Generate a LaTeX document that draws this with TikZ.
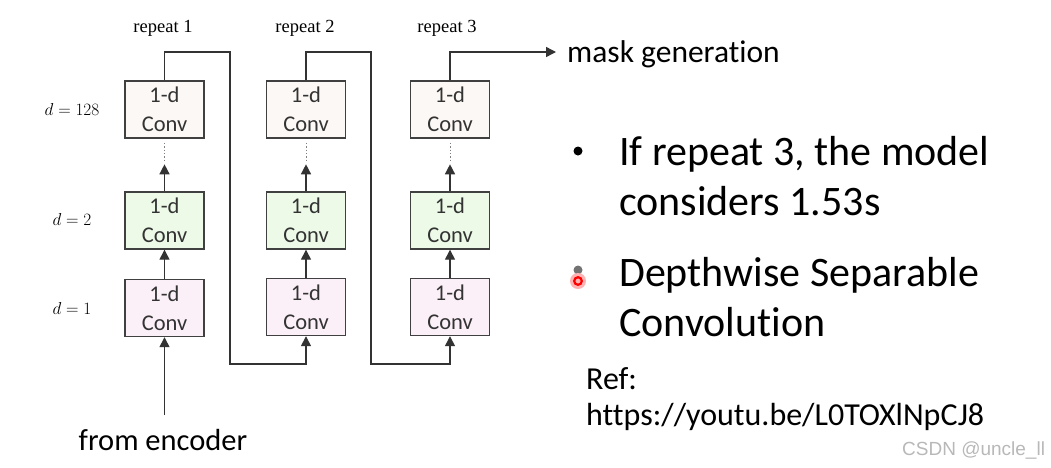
\documentclass[tikz,border=0pt]{standalone}
\usepackage{fontspec}
\setmainfont{Carlito}[Ligatures={NoCommon,NoContextual}]
\newfontfamily\repfont{Liberation Serif}
\newfontfamily\markfont{Liberation Sans}
\usetikzlibrary{arrows.meta}
\definecolor{boxtop}{RGB}{252,248,245}
\definecolor{boxmid}{RGB}{237,250,232}
\definecolor{boxlow}{RGB}{252,240,248}
\definecolor{edge}{RGB}{64,64,64}
\tikzset{
  conv/.style={draw=edge, line width=1.4pt, minimum width=79pt, minimum height=57pt,
    align=center, font=\fontsize{22.5}{29}\selectfont, text=black!80, inner sep=0pt},
  flow/.style={line width=1.4pt, draw=black!80, -{Triangle[length=10pt,width=10pt]}},
  wire/.style={line width=1.4pt, draw=black!80},
  txt/.style={inner sep=0pt, anchor=west},
  replabel/.style={font=\repfont\fontsize{18.5}{20}\selectfont},
  dlabel/.style={font=\fontsize{19}{21}\selectfont}
}
\begin{document}
\begin{tikzpicture}[x=1pt,y=-1pt]
        \useasboundingbox (0,0) rectangle (1051,467);
        % column 1
        \node [conv, fill=boxlow] (c1a) at (164.5, 308) {1-d\\Conv};
        \node [conv, fill=boxmid] (c1b) at (164.5, 220.5) {1-d\\Conv};
        \node [conv, fill=boxtop] (c1c) at (164.5, 109.5) {1-d\\Conv};
        % column 2
        \node [conv, fill=boxlow] (c2a) at (306, 307) {1-d\\Conv};
        \node [conv, fill=boxmid] (c2b) at (306, 220.5) {1-d\\Conv};
        \node [conv, fill=boxtop] (c2c) at (306, 109.5) {1-d\\Conv};
        % column 3
        \node [conv, fill=boxlow] (c3a) at (450, 307) {1-d\\Conv};
        \node [conv, fill=boxmid] (c3b) at (450, 220.5) {1-d\\Conv};
        \node [conv, fill=boxtop] (c3c) at (450, 109.5) {1-d\\Conv};
        % labels
        \node [replabel] (r1) at (163, 28) {repeat 1};
        \node [replabel] (r2) at (305, 28) {repeat 2};
        \node [replabel] (r3) at (447, 28) {repeat 3};
        \node [dlabel] (d3) at (72, 109) {$d = 128$};
        \node [dlabel] (d2) at (72, 219) {$d = 2$};
        \node [dlabel] (d1) at (72, 308) {$d = 1$};
        \node [font=\fontsize{30.5}{33}\selectfont] (enc) at (163, 440) {from encoder};
        \node [txt, font=\fontsize{31.5}{34}\selectfont] (mask) at (567, 54) {mask generation};
        \coordinate (src) at (164.5, 415);
        \coordinate (top1) at (164.5, 52);
        \coordinate (top2) at (306, 52);
        \coordinate (top3) at (450, 52);
        \coordinate (out) at (556, 52);
        % arrows inside columns
        \draw [flow] (src) -- (c1a);
        \draw [flow] (c1a) -- (c1b);
        \draw [flow] (c2a) -- (c2b);
        \draw [flow] (c3a) -- (c3b);
        \draw [flow] (c1b.north) -- ++(0,-27);
        \draw [flow] (c2b.north) -- ++(0,-27);
        \draw [flow] (c3b.north) -- ++(0,-27);
        \draw [wire, dotted, line width=1pt, black!50] (c1c.south) ++(0,4) -- ++(0,18);
        \draw [wire, dotted, line width=1pt, black!50] (c2c.south) ++(0,4) -- ++(0,18);
        \draw [wire, dotted, line width=1pt, black!50] (c3c.south) ++(0,4) -- ++(0,18);
        % links between repeats
        \draw [flow] (c1c.north) -- (top1) -| (230, 364) -| (c2a.south);
        \draw [flow] (c2c.north) -- (top2) -| (371, 364) -| (c3a.south);
        \draw [flow] (c3c.north) -- (top3) -- (out);
        % right side text
        \fill (578, 151) circle [radius=4.5];
        \node [txt, font=\fontsize{42}{50}\selectfont, align=left, anchor=north west] (p1) at (619, 136.5) {If repeat 3, the model\\considers 1.53s};
        \fill [black!55] (578, 270) circle [radius=4.5];
        \fill [red!30] (578, 281) circle [radius=8];
        \draw [red, line width=2.2pt] (578, 281) circle [radius=3.8];
        \node [txt, font=\fontsize{42}{50}\selectfont, align=left, anchor=north west] (p2) at (619, 257.5) {Depthwise Separable\\Convolution};
        \node [txt, font=\fontsize{32}{36}\selectfont, align=left, anchor=north west] (ref) at (586, 367.5) {Ref:\\https://youtu.be/L0TOXlNpCJ8};
        \node [txt, font=\markfont\fontsize{19}{21}\selectfont, text=black!28] (mark) at (902, 450) {CSDN @uncle\_ll};
      \end{tikzpicture}
\end{document}
